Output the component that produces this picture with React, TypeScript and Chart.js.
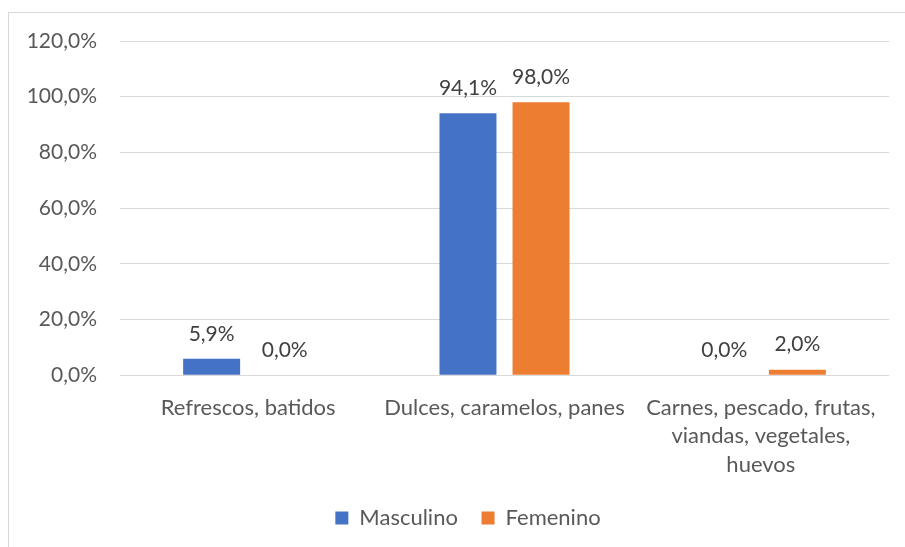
import React, { useEffect, useRef } from "react";
import { Chart, registerables } from "chart.js";

Chart.register(...registerables);

const categories: (string | string[])[] = [
  "Refrescos, batidos",
  "Dulces, caramelos, panes",
  ["Carnes, pescado, frutas,", "viandas, vegetales,", "huevos"],
];
const masculino = [5.9, 94.1, 0.0];
const femenino = [0.0, 98.0, 2.0];
const seriesNames = ["Masculino", "Femenino"];

const FONT = "Lato, 'Open Sans', sans-serif";
const FS = 21;
const FS_TXT = 22;
const fmt = (v: number) => v.toFixed(1).replace(".", ",") + "%";

const labelPlugin = {
  id: "barLabels",
  afterDatasetsDraw(chart: any) {
    const ctx = chart.ctx;
    ctx.save();
    ctx.font = `${FS}px ${FONT}`;
    ctx.fillStyle = "#404040";
    ctx.textAlign = "center";
    ctx.textBaseline = "middle";
    chart.data.datasets.forEach((ds: any, i: number) => {
      const meta = chart.getDatasetMeta(i);
      meta.data.forEach((bar: any, j: number) => {
        ctx.fillText(fmt(ds.data[j]), bar.x, bar.y - 25);
      });
    });
    ctx.restore();
  },
};

const legendShift = {
  id: "legendShift",
  afterLayout(chart: any) {
    if (chart.legend) {
      chart.legend.left += 19;
      chart.legend.right += 19;
    }
  },
};

export default function App() {
  const ref = useRef<HTMLCanvasElement>(null);
  useEffect(() => {
    document.documentElement.style.overflow = "hidden";
    document.body.style.overflow = "hidden";
    const chart = new Chart(ref.current!, {
      type: "bar",
      data: {
        labels: categories,
        datasets: [
          {
            label: seriesNames[0] + " ",
            data: masculino,
            backgroundColor: "#4472C4",
            barPercentage: 0.78,
            categoryPercentage: 0.57,
          },
          {
            label: seriesNames[1],
            data: femenino,
            backgroundColor: "#ED7D31",
            barPercentage: 0.78,
            categoryPercentage: 0.57,
          },
        ],
      },
      options: {
        animation: false,
        responsive: false,
        maintainAspectRatio: false,
        layout: { padding: { left: 0, right: 16, top: 28, bottom: 9 } },
        plugins: {
          legend: {
            position: "bottom",
            labels: {
              boxWidth: 13,
              boxHeight: 13,
              padding: 18,
              color: "#595959",
              font: { family: FONT, size: FS_TXT },
            },
          },
          tooltip: { enabled: false },
        },
        scales: {
          x: {
            grid: { display: false },
            border: { display: false },
            ticks: {
              color: "#595959",
              font: { family: FONT, size: FS_TXT, lineHeight: 1.3 },
              maxRotation: 0,
              autoSkip: false,
              padding: 10,
            },
          },
          y: {
            min: 0,
            max: 120,
            afterFit: (s: any) => {
              s.width = 111;
              s.paddingTop = 0;
              s.paddingBottom = 0;
            },
            ticks: {
              stepSize: 20,
              color: "#595959",
              font: { family: FONT, size: FS },
              padding: 23,
              callback: (v: any) => fmt(Number(v)),
            },
            grid: { color: "#d9d9d9", lineWidth: 1, drawTicks: false },
            border: { display: false },
          },
        },
      },
      plugins: [labelPlugin, legendShift],
    });
    return () => chart.destroy();
  }, []);
  return (
    <div
      style={{
        position: "absolute",
        left: 8,
        top: 12,
        width: 920,
        height: 560,
        border: "1px solid #d9d9d9",
        background: "#fff",
      }}
    >
      <canvas ref={ref} width={896} height={535} style={{ display: "block" }} />
    </div>
  );
}
